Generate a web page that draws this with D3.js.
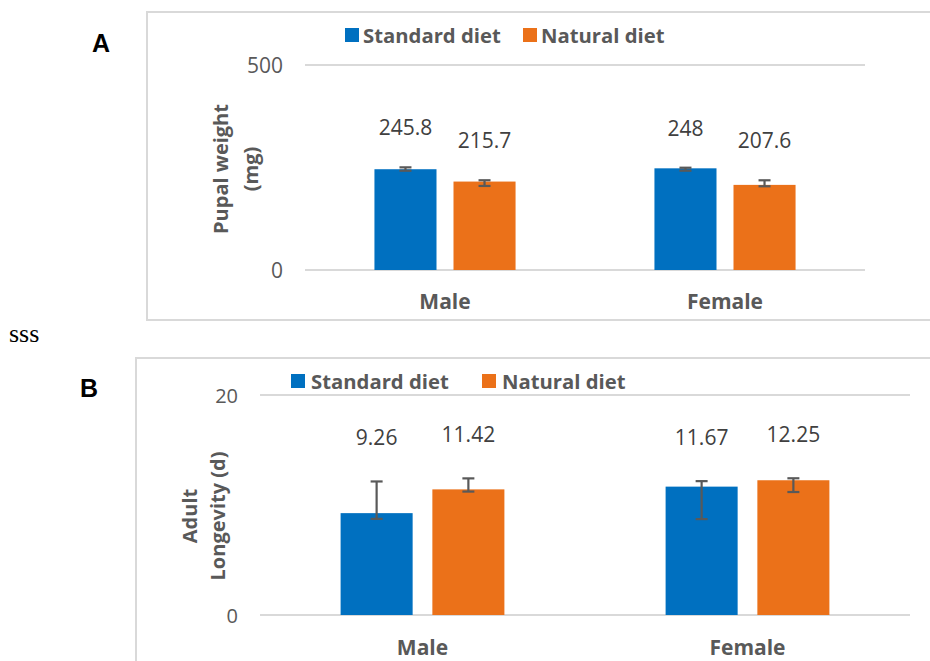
<!DOCTYPE html>
<html><head><meta charset="utf-8">
<script src="https://cdn.jsdelivr.net/npm/d3@7"></script>
<style>
html,body{margin:0;padding:0;background:#fff;}
svg{display:block;}
</style></head>
<body>
<svg id="chart" width="930" height="661"></svg>
<script>
// ---- data ----
const categories = ["Male", "Female"];
const seriesNames = ["Standard diet", "Natural diet"];
const seriesColors = ["#0070C0", "#EB7119"];

const pupalStandard = [245.8, 248];
const pupalNatural = [215.7, 207.6];
const pupalStdErrUp = [4.6, 1.5];
const pupalStdErrDown = [3.7, 5.8];
const pupalNatErrUp = [3.2, 11.2];
const pupalNatErrDown = [10.7, 3.4];
const pupalTicks = [0, 500];

const longStandard = [9.26, 11.67];
const longNatural = [11.42, 12.25];
const longStdErrUp = [2.88, 0.5];
const longStdErrDown = [0.52, 2.95];
const longNatErrUp = [1.0, 0.18];
const longNatErrDown = [0.2, 1.07];
const longTicks = [0, 20];

const svg = d3.select("#chart");
const FONT = "'Open Sans', 'DejaVu Sans', sans-serif";

function drawPanel(cfg) {
  const g = svg.append("g");
  // frame
  g.append("rect").attr("x", cfg.box[0]).attr("y", cfg.box[1])
    .attr("width", cfg.box[2]).attr("height", cfg.box[3])
    .attr("fill", "none").attr("stroke", "#D9D9D9").attr("stroke-width", 2);

  const y = d3.scaleLinear().domain([0, cfg.ticks[cfg.ticks.length - 1]]).range([cfg.y0, cfg.y1]);
  const x = d3.scaleBand().domain(categories).range([cfg.x0, cfg.x1]).padding(0);
  const bw = x.bandwidth();
  const xi = d3.scaleBand().domain(seriesNames).range([bw * 0.248, bw * 0.752]).paddingInner(0.215).paddingOuter(0);

  // gridlines
  g.selectAll("line.grid").data(cfg.ticks).join("line")
    .attr("x1", cfg.x0).attr("x2", cfg.x1)
    .attr("y1", d => y(d)).attr("y2", d => y(d))
    .attr("stroke", "#D9D9D9").attr("stroke-width", 2);
  // tick labels
  g.selectAll("text.tick").data(cfg.ticks).join("text")
    .attr("x", cfg.x0 - 22).attr("y", d => y(d))
    .attr("text-anchor", "end").attr("dominant-baseline", "central")
    .attr("font-family", FONT).attr("font-size", cfg.tickSize).attr("fill", "#595959")
    .text(d => d);

  const rows = [];
  cfg.series.forEach((vals, si) => {
    vals.forEach((v, ci) => {
      rows.push({cat: categories[ci], s: seriesNames[si], si, v, up: cfg.errUp[si][ci], down: cfg.errDown[si][ci]});
    });
  });

  const bx = d => x(d.cat) + xi(d.s);
  g.selectAll("rect.bar").data(rows).join("rect")
    .attr("x", bx).attr("width", xi.bandwidth())
    .attr("y", d => y(d.v)).attr("height", d => y(0) - y(d.v))
    .attr("fill", d => seriesColors[d.si]);

  // error bars
  const cx = d => bx(d) + xi.bandwidth() / 2;
  const eg = g.selectAll("g.err").data(rows).join("g").attr("stroke", "#595959").attr("stroke-width", 2.2);
  eg.append("line").attr("x1", cx).attr("x2", cx).attr("y1", d => y(d.v + d.up)).attr("y2", d => y(d.v - d.down));
  eg.append("line").attr("x1", d => cx(d) - 6).attr("x2", d => cx(d) + 6).attr("y1", d => y(d.v + d.up)).attr("y2", d => y(d.v + d.up));
  eg.append("line").attr("x1", d => cx(d) - 6).attr("x2", d => cx(d) + 6).attr("y1", d => y(d.v - d.down)).attr("y2", d => y(d.v - d.down));

  // data labels
  g.selectAll("text.lbl").data(rows).join("text")
    .attr("x", cx).attr("y", d => y(d.v + d.up) - cfg.labelOffset)
    .attr("text-anchor", "middle").attr("dominant-baseline", "central")
    .attr("font-family", FONT).attr("font-size", 21).attr("fill", "#404040")
    .text(d => d.v);

  // category labels
  g.selectAll("text.cat").data(categories).join("text")
    .attr("x", d => x(d) + bw / 2).attr("y", cfg.catY)
    .attr("text-anchor", "middle").attr("dominant-baseline", "central")
    .attr("font-family", FONT).attr("font-size", 21).attr("font-weight", "bold").attr("fill", "#595959")
    .text(d => d);

  // legend
  const lg = g.selectAll("g.leg").data(seriesNames).join("g")
    .attr("transform", (d, i) => `translate(${cfg.legendX[i]},${cfg.legendY})`);
  lg.append("rect").attr("x", 0).attr("y", -7).attr("width", 14).attr("height", 14)
    .attr("fill", (d, i) => seriesColors[i]);
  lg.append("text").attr("x", cfg.legendGap).attr("y", 0).attr("dominant-baseline", "central")
    .attr("font-family", FONT).attr("font-size", 20.3).attr("font-weight", "bold").attr("fill", "#595959")
    .text(d => d);

  // y-axis title (two lines, rotated)
  const midY = cfg.titleY;
  cfg.title.forEach((t, i) => {
    g.append("text")
      .attr("transform", `translate(${cfg.titleX[i]},${midY}) rotate(-90)`)
      .attr("text-anchor", "middle").attr("dominant-baseline", "central")
      .attr("font-family", FONT).attr("font-size", 20).attr("font-weight", "bold").attr("fill", "#595959")
      .text(t);
  });

  // panel letter
  g.append("text").attr("x", cfg.letterX).attr("y", cfg.letterY)
    .attr("text-anchor", "middle").attr("dominant-baseline", "central")
    .attr("font-family", "'Liberation Sans', Arial, sans-serif").attr("font-size", 25).attr("font-weight", "bold").attr("fill", "#000")
    .text(cfg.letter);
}

drawPanel({
  box: [147, 12, 800, 308],
  x0: 305, x1: 865, y0: 270, y1: 65,
  ticks: pupalTicks, tickSize: 21,
  series: [pupalStandard, pupalNatural],
  errUp: [pupalStdErrUp, pupalNatErrUp],
  errDown: [pupalStdErrDown, pupalNatErrDown],
  labelOffset: 40,
  catY: 301,
  legendX: [345, 523], legendY: 35, legendGap: 18,
  title: ["Pupal weight", "(mg)"], titleX: [220, 250], titleY: 169,
  letter: "A", letterX: 101, letterY: 43
});

drawPanel({
  box: [136, 358, 810, 320],
  x0: 260, x1: 910, y0: 615, y1: 395,
  ticks: longTicks, tickSize: 20,
  series: [longStandard, longNatural],
  errUp: [longStdErrUp, longNatErrUp],
  errDown: [longStdErrDown, longNatErrDown],
  labelOffset: 44,
  catY: 647,
  legendX: [291, 482], legendY: 381, legendGap: 20,
  title: ["Adult", "Longevity (d)"], titleX: [189, 217], titleY: 516,
  letter: "B", letterX: 89, letterY: 388
});

svg.append("text").attr("x", 9).attr("y", 342)
  .attr("font-family", "'Liberation Serif', 'Times New Roman', serif").attr("font-size", 26).attr("fill", "#000")
  .text("sss");
</script>
</body></html>
